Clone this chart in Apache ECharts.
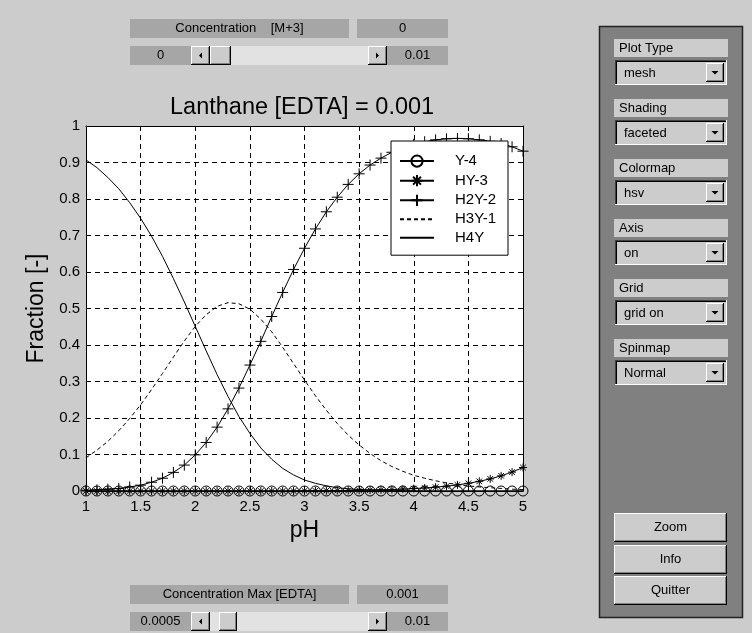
<!DOCTYPE html>
<html><head><meta charset="utf-8">
<script src="https://cdn.jsdelivr.net/npm/echarts@6/dist/echarts.min.js"></script>
<style>html,body{margin:0;padding:0;background:#cccccc}#c{width:752px;height:633px}</style>
</head><body><div id="c"></div>
<script>
// ---- data ----
const pH = [1.0,1.1,1.2,1.3,1.4,1.5,1.6,1.7,1.8,1.9,2.0,2.1,2.2,2.3,2.4,2.5,2.6,2.7,2.8,2.9,3.0,3.1,3.2,3.3,3.4,3.5,3.6,3.7,3.8,3.9,4.0,4.1,4.2,4.3,4.4,4.5,4.6,4.7,4.8,4.9,5.0];
const Y4  = [0,0,0,0,0,0,0,0,0,0,0,0,0,0,0,0,0,0,0,0,0,0,0,0,0,0,0,0,0,0,0,0,0,0,0,0,0,0,0,0,0];
const HY3 = [0,0,0,0,0,0,0,0,0,0,0,0,0,0,0,0,0,0,0,0,0.0005,0.0006,0.0008,0.0011,0.0015,0.0019,0.0025,0.0032,0.004,0.0052,0.0066,0.0083,0.0105,0.0133,0.0168,0.0211,0.0265,0.0332,0.0415,0.0518,0.0644];
const H2Y2 = [0.002,0.003,0.005,0.007,0.011,0.016,0.024,0.035,0.051,0.071,0.099,0.133,0.175,0.225,0.282,0.345,0.410,0.478,0.544,0.607,0.665,0.718,0.765,0.805,0.840,0.869,0.893,0.912,0.928,0.940,0.950,0.957,0.962,0.965,0.966,0.965,0.962,0.958,0.952,0.943,0.931];
const H3Y1 = [0.091,0.112,0.136,0.165,0.199,0.236,0.278,0.322,0.367,0.411,0.451,0.483,0.506,0.516,0.513,0.498,0.471,0.436,0.394,0.349,0.304,0.261,0.221,0.185,0.153,0.126,0.103,0.083,0.067,0.054,0.043,0.035,0.028,0.022,0.018,0.014,0.011,0.009,0.007,0.005,0.004];
const H4Y  = [0.907,0.886,0.859,0.828,0.790,0.747,0.698,0.643,0.582,0.518,0.451,0.384,0.319,0.259,0.204,0.158,0.118,0.087,0.062,0.044,0.030,0.021,0.014,0.009,0.006,0.004,0.003,0.002,0.001,0.001,0,0,0,0,0,0,0,0,0,0,0];
const seriesNames = ['Y-4','HY-3','H2Y-2','H3Y-1','H4Y'];
const panelLabels = ['Plot Type','Shading','Colormap','Axis','Grid','Spinmap'];
const panelValues = ['mesh','faceted','hsv','on','grid on','Normal'];
const buttonLabels = ['Zoom','Info','Quitter'];

const FONT = '"Liberation Sans", Arial, Helvetica, sans-serif';
const pts = arr => pH.map((x,i)=>[x, arr[i]]);

// ---- GUI helpers ----
const G = [];
function rect(x,y,w,h,fill,stroke,lw){ G.push({type:'rect',silent:true,shape:{x:x,y:y,width:w,height:h},style:{fill:fill,stroke:stroke||null,lineWidth:lw||0}}); }
function ln(x1,y1,x2,y2,c,w){ G.push({type:'line',silent:true,shape:{x1:x1,y1:y1,x2:x2,y2:y2},style:{stroke:c,lineWidth:w||1}}); }
function txt(x,y,s,align){ G.push({type:'text',silent:true,x:x,y:y,style:{text:s,fill:'#000',font:'13px '+FONT,textAlign:align||'center',textVerticalAlign:'middle',align:align||'center',verticalAlign:'middle'}}); }
function poly(points){ G.push({type:'polygon',silent:true,shape:{points:points},style:{fill:'#000'}}); }
function raised(x,y,w,h){
  rect(x,y,w,h,'#cccccc');
  ln(x,y+0.5,x+w-1,y+0.5,'#ffffff'); ln(x+0.5,y,x+0.5,y+h-1,'#ffffff');
  ln(x,y+h-0.5,x+w,y+h-0.5,'#000'); ln(x+w-0.5,y,x+w-0.5,y+h,'#000');
  ln(x+1,y+h-1.5,x+w-1,y+h-1.5,'#808080'); ln(x+w-1.5,y+1,x+w-1.5,y+h-1,'#808080');
}
function sunken(x,y,w,h){
  rect(x,y,w,h,'#cccccc');
  ln(x,y+0.5,x+w,y+0.5,'#404040'); ln(x+0.5,y,x+0.5,y+h,'#404040');
  ln(x+1,y+1.5,x+w-1,y+1.5,'#000'); ln(x+1.5,y+1,x+1.5,y+h-1,'#000');
  ln(x,y+h-0.5,x+w,y+h-0.5,'#ffffff'); ln(x+w-0.5,y,x+w-0.5,y+h,'#ffffff');
}
function slider(y, title, val, lo, hi, thumbX, thumbW){
  rect(130,y,219,19,'#a6a6a6'); txt(239.5,y+9.5,title);
  rect(357,y,91,19,'#a6a6a6'); txt(402.5,y+9.5,val);
  const r = y+27;
  rect(130,r,61,19,'#a6a6a6'); txt(160.5,r+9.5,lo);
  rect(191,r,196,19,'#e2e2e2');
  raised(191,r,19,19); poly([[202,r+6.5],[202,r+12.5],[199,r+9.5]]);
  raised(thumbX,r,thumbW,19);
  raised(368,r,19,19); poly([[376,r+6.5],[376,r+12.5],[379,r+9.5]]);
  rect(387,r,61,19,'#a6a6a6'); txt(417.5,r+9.5,hi);
}
slider(19,'Concentration    [M+3]','0','0','0.01',210,21);
slider(585,'Concentration Max [EDTA]','0.001','0.0005','0.01',219,18);

// right panel
rect(599.5,26.5,143,591,'#808080','#222',1.5);
panelLabels.forEach((lab,k)=>{
  const y0 = 39+60*k;
  rect(614,y0,114,18,'#cccccc'); txt(619,y0+9.5,lab,'left');
  const py = 60+60*k;
  sunken(615,py,112,25); txt(624,py+13,panelValues[k],'left');
  raised(706,py+3,18,19); poly([[711.5,py+11],[718.5,py+11],[715,py+14.5]]);
});
buttonLabels.forEach((b,k)=>{
  const y0 = [513,545,576][k];
  raised(614,y0,113,29); txt(670.5,y0+14.5,b);
});

// ---- chart ----
const PLUS = 'path://M5,0L5,10M0,5L10,5';
const STAR = 'path://M5,0L5,10M0,5L10,5M1.5,1.5L8.5,8.5M8.5,1.5L1.5,8.5';
const lineBase = {type:'line', animation:false, clip:false, silent:true, lineStyle:{color:'#000',width:1}};
function mk(name, arr, symbol, size, extra){
  const noSym = symbol === 'none';
  return Object.assign({}, lineBase, {
    name:name, data:pts(arr), symbol:symbol, symbolSize:size, showSymbol: !noSym,
    itemStyle: noSym ? {color:'transparent', borderColor:'transparent', borderWidth:0}
                     : {color:'none', borderColor:'#000', borderWidth:1}
  }, extra||{});
}
const axisCommon = {
  axisLine:{show:true,onZero:false,lineStyle:{color:'#000',width:1}},
  axisTick:{show:true,inside:true,length:5,lineStyle:{color:'#000'}},
};
const chart = echarts.init(document.getElementById('c'), null, {renderer:'canvas'});
chart.setOption({
  backgroundColor:'#cccccc',
  animation:false,
  title:{text:'Lanthane [EDTA] = 0.001', left:170, top:96, padding:0,
    textStyle:{fontSize:23.5, fontWeight:'normal', color:'#000', fontFamily:FONT}},
  grid:{left:86, right:229, top:126, bottom:142, show:true, backgroundColor:'#ffffff', borderWidth:0},
  legend:{
    left:391, top:141, orient:'vertical', selectedMode:false,
    backgroundColor:'#ffffff', borderColor:'#000', borderWidth:1,
    padding:[12,8,10,8], itemWidth:34, itemHeight:14, itemGap:3.4,
    textStyle:{fontSize:15, color:'#000', fontFamily:FONT, padding:[0,0,0,16], width:45, lineHeight:14},
    data:seriesNames
  },
  xAxis:[
    Object.assign({type:'value', min:1, max:5, interval:0.5, position:'bottom',
      name:'pH', nameLocation:'middle', nameGap:28,
      nameTextStyle:{fontSize:23, color:'#000', fontFamily:FONT},
      axisLabel:{fontSize:15, color:'#000', fontFamily:FONT, margin:8, showMinLabel:true, showMaxLabel:true},
      splitLine:{show:true, lineStyle:{color:'#000', type:[5,4], width:1}}}, axisCommon),
    Object.assign({type:'value', min:1, max:5, interval:0.5, position:'top',
      axisLabel:{show:false}, splitLine:{show:false}}, axisCommon)
  ],
  yAxis:[
    Object.assign({type:'value', min:0, max:1, interval:0.1, position:'left',
      name:'Fraction [-]', nameLocation:'middle', nameGap:30,
      nameTextStyle:{fontSize:23, color:'#000', fontFamily:FONT},
      axisLabel:{fontSize:15, color:'#000', fontFamily:FONT, margin:6, showMinLabel:true, showMaxLabel:true},
      splitLine:{show:true, lineStyle:{color:'#000', type:[5,4], width:1}}}, axisCommon),
    Object.assign({type:'value', min:0, max:1, interval:0.1, position:'right',
      axisLabel:{show:false}, splitLine:{show:false}}, axisCommon)
  ],
  series:[
    mk('Y-4', Y4, 'circle', 10),
    mk('HY-3', HY3, STAR, 8),
    mk('H2Y-2', H2Y2, PLUS, 11),
    mk('H3Y-1', H3Y1, 'none', 0, {lineStyle:{color:'#000',width:1,type:[4,3]}}),
    mk('H4Y', H4Y, 'none', 0)
  ],
  graphic:{elements:G}
});
</script></body></html>
